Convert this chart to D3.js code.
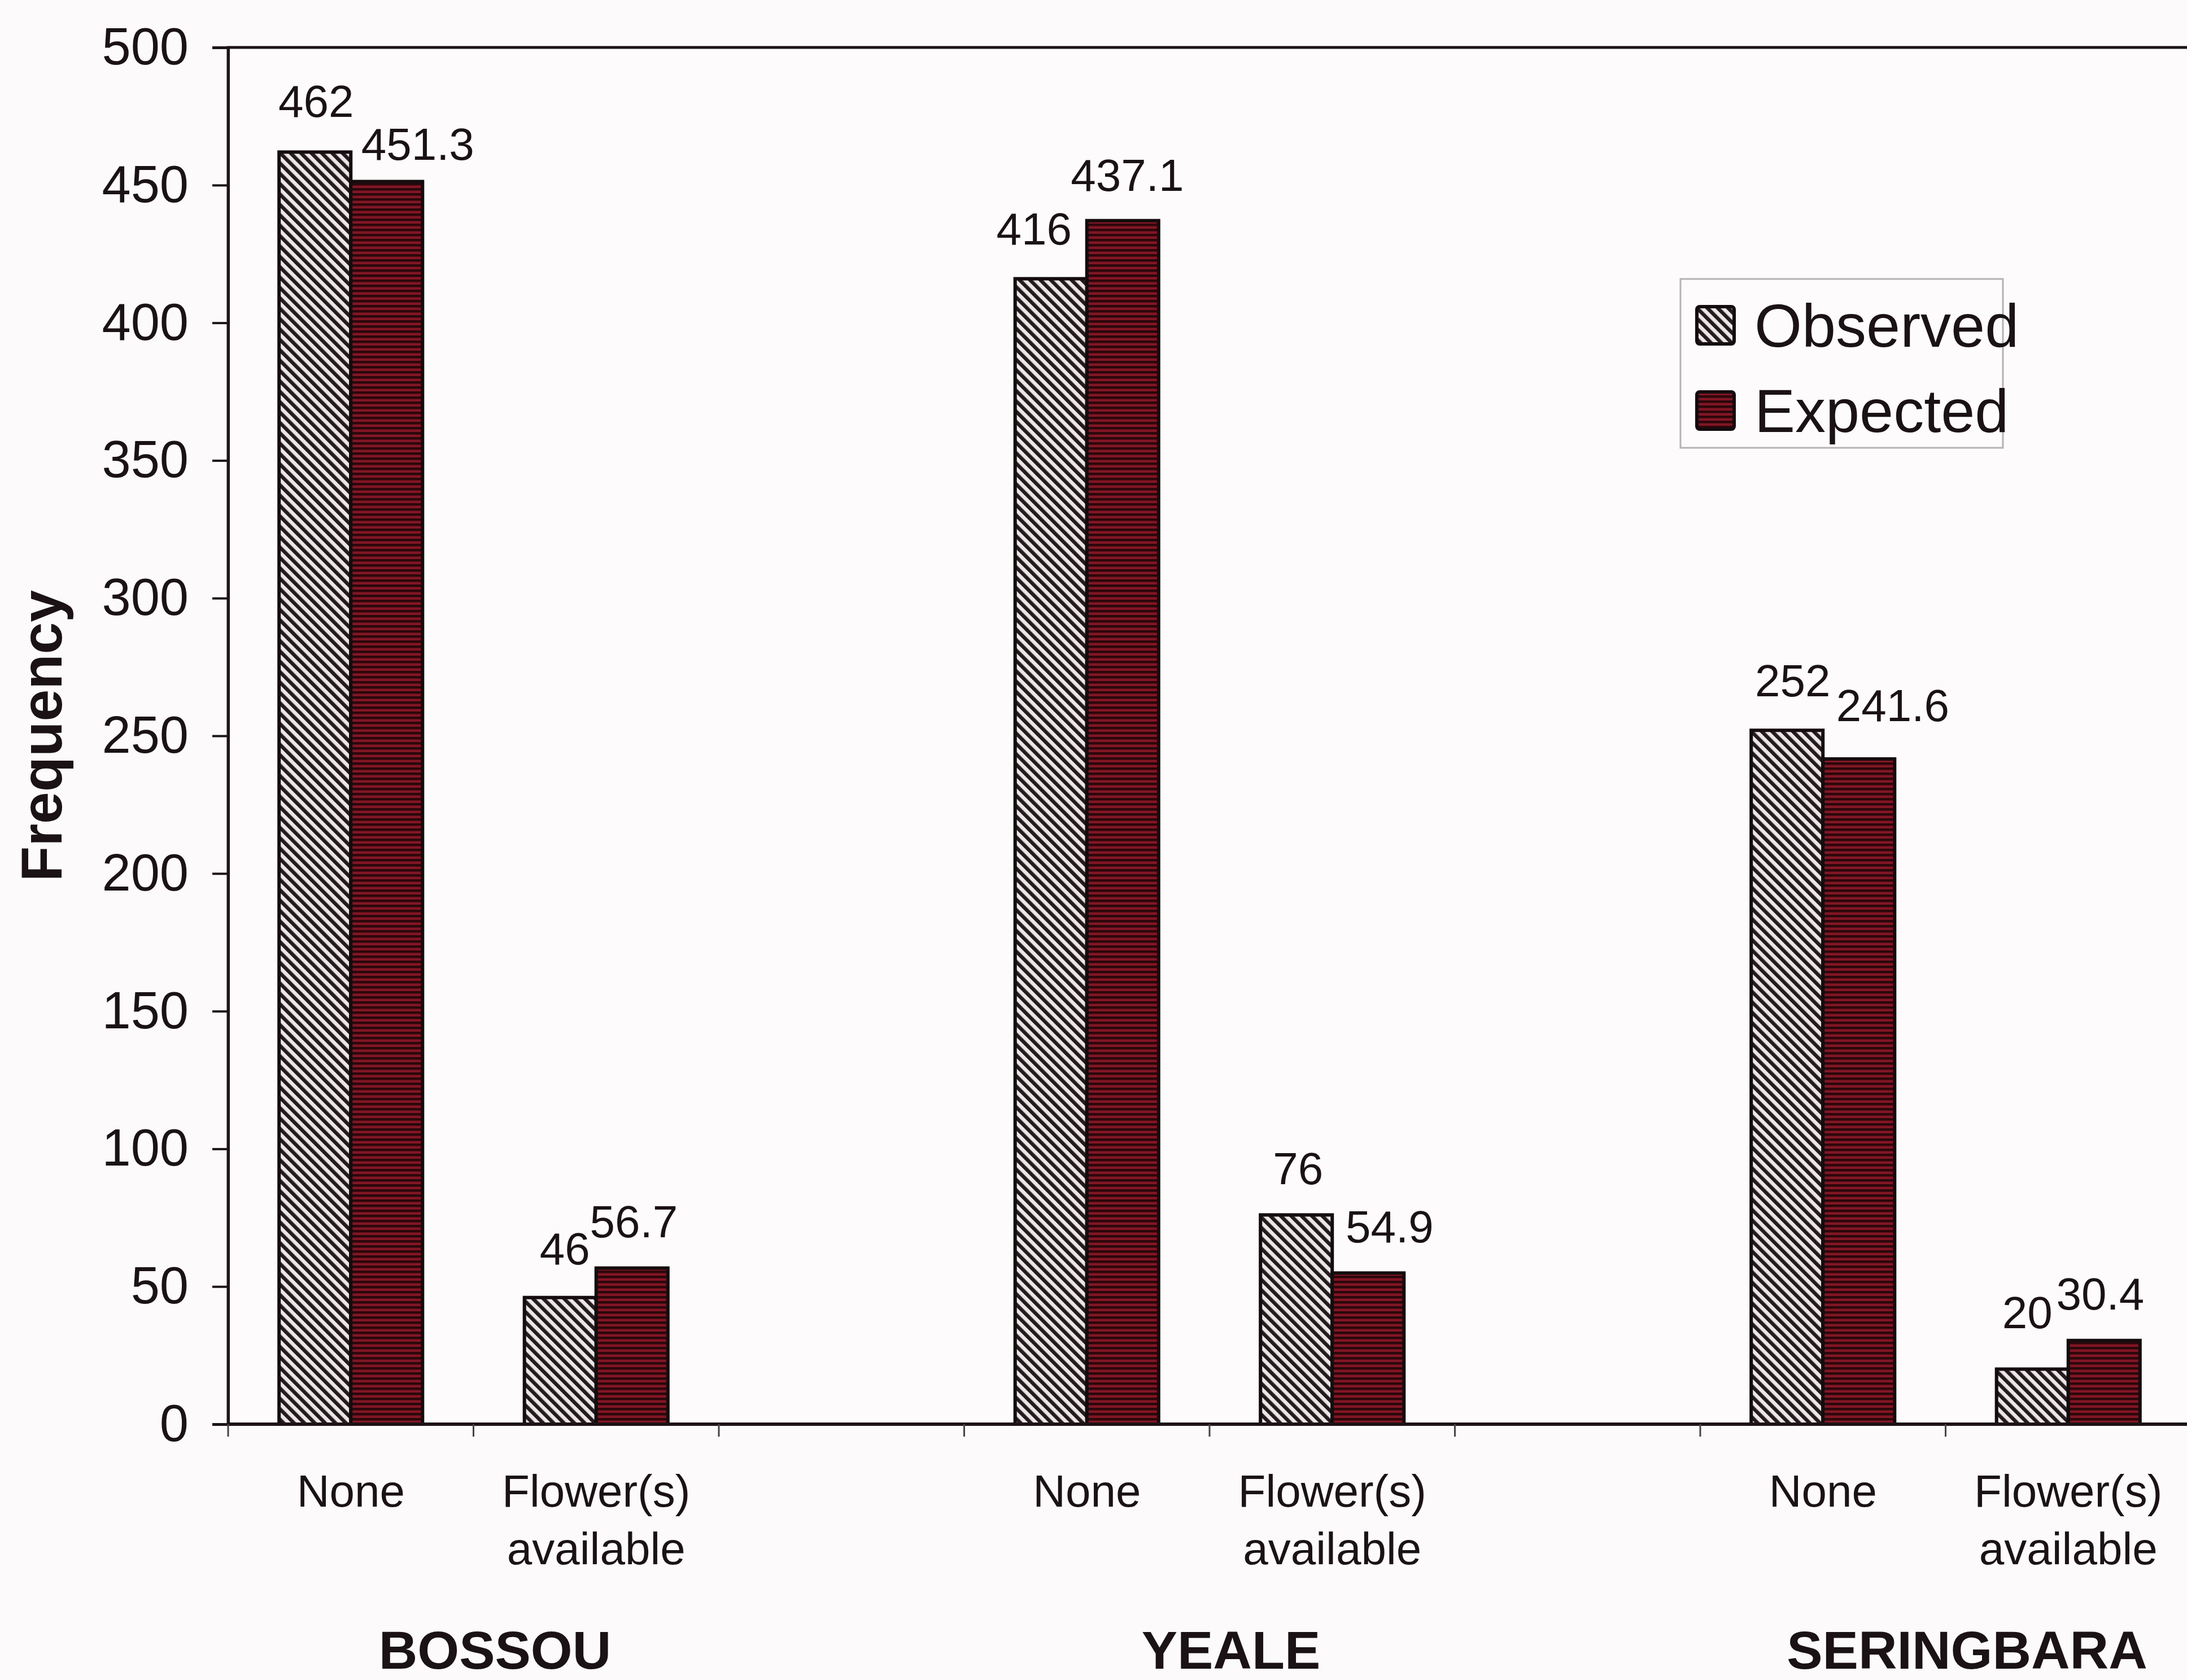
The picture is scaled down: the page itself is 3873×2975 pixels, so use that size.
<!DOCTYPE html>
<html>
<head>
<meta charset="utf-8">
<script src="https://cdn.jsdelivr.net/npm/d3@7"></script>
<style>
  html, body { margin: 0; padding: 0; background: #fcfafa; overflow: hidden; }
  svg { display: block; }
  text { font-family: "Liberation Sans", Arial, sans-serif; fill: #1a1214; }
</style>
</head>
<body>
<script>
// Sites and the two feeding contexts recorded at each site
const sites = ["BOSSOU", "YEALE", "SERINGBARA"];
const contexts = ["None", "Flower(s) available"];
const seriesNames = ["Observed", "Expected"];

// Frequencies per site/context (site order, then context order)
const observed = [462, 46, 416, 76, 252, 20];
const expected = [451.3, 56.7, 437.1, 54.9, 241.6, 30.4];

// Value labels exactly as printed
const observedLabels = ["462", "46", "416", "76", "252", "20"];
const expectedLabels = ["451.3", "56.7", "437.1", "54.9", "241.6", "30.4"];

const yTicks = [0, 50, 100, 150, 200, 250, 300, 350, 400, 450, 500];
const yTitle = "Frequency";

// Hand nudges for the value labels [dx, dy], so that neighbouring labels do not collide
const observedNudge = [[2, -8], [8, -4], [-30, -6], [3, 0], [10, -6], [-9, -18]];
const expectedNudge = [[55, 16], [3, 0], [8, 2], [38, 0], [60, -12], [-7, 0]];

const W = 3873, H = 2975;
const M = { left: 404, top: 84, bottom: 453 };
const plotW = 3476;             // the frame runs just past the right edge of the page
const plotH = H - M.top - M.bottom;

const svg = d3.select("body").append("svg")
  .attr("width", W).attr("height", H)
  .attr("viewBox", `0 0 ${W} ${H}`);

// Fill patterns: diagonal hatching for observed, horizontal banding for expected
const defs = svg.append("defs");
const pObs = defs.append("pattern")
  .attr("id", "hatchObs")
  .attr("patternUnits", "userSpaceOnUse")
  .attr("width", 13).attr("height", 13)
  .attr("patternTransform", "rotate(-45)");
pObs.append("rect").attr("width", 13).attr("height", 13).attr("fill", "#ebe7e7");
pObs.append("rect").attr("width", 6.5).attr("height", 13).attr("fill", "#231b1d");

const pExp = defs.append("pattern")
  .attr("id", "bandExp")
  .attr("patternUnits", "userSpaceOnUse")
  .attr("width", 9).attr("height", 9);
pExp.append("rect").attr("width", 9).attr("height", 9).attr("fill", "#821624");
pExp.append("rect").attr("width", 9).attr("height", 4.5).attr("fill", "#2c070c");

const fills = { Observed: "url(#hatchObs)", Expected: "url(#bandExp)" };

// Category slots: two contexts per site, with an empty slot between sites
const slots = [];
sites.forEach((s, si) => {
  contexts.forEach((c, ci) => slots.push({ key: `${si}-${ci}`, site: si, ctx: c, idx: si * 2 + ci }));
  if (si < sites.length - 1) slots.push({ key: `gap-${si}`, site: si, ctx: null, idx: -1 });
});

const x = d3.scaleBand()
  .domain(slots.map(d => d.key))
  .range([M.left, M.left + plotW])
  .padding(0);

const xInner = d3.scaleBand()
  .domain(seriesNames)
  .range([0, x.bandwidth()])
  .paddingInner(0)
  .paddingOuter(0.71);

const y = d3.scaleLinear().domain([0, 500]).range([M.top + plotH, M.top]);

// Plot frame (top and left, bottom drawn as the axis line)
svg.append("rect")
  .attr("x", M.left).attr("y", M.top)
  .attr("width", plotW).attr("height", plotH)
  .attr("fill", "#fdfbfb")
  .attr("stroke", "#1c1416")
  .attr("stroke-width", 5);

// Bars
const barData = [];
slots.filter(d => d.idx >= 0).forEach(d => {
  barData.push({ slot: d.key, series: "Observed", value: observed[d.idx], label: observedLabels[d.idx], nudge: observedNudge[d.idx] });
  barData.push({ slot: d.key, series: "Expected", value: expected[d.idx], label: expectedLabels[d.idx], nudge: expectedNudge[d.idx] });
});

svg.append("g").selectAll("rect")
  .data(barData)
  .join("rect")
  .attr("x", d => x(d.slot) + xInner(d.series))
  .attr("y", d => y(d.value))
  .attr("width", xInner.bandwidth())
  .attr("height", d => y(0) - y(d.value))
  .attr("fill", d => fills[d.series])
  .attr("stroke", "#140c0e")
  .attr("stroke-width", 6);

// Value labels above bars
svg.append("g").selectAll("text")
  .data(barData)
  .join("text")
  .attr("x", d => x(d.slot) + xInner(d.series) + xInner.bandwidth() / 2 + d.nudge[0])
  .attr("y", d => y(d.value) - 82 + d.nudge[1])
  .attr("text-anchor", "middle")
  .attr("dominant-baseline", "central")
  .attr("font-size", 80)
  .text(d => d.label);

// Y axis
const yAxis = svg.append("g")
  .attr("transform", `translate(${M.left},0)`)
  .call(d3.axisLeft(y).tickValues(yTicks).tickSize(28).tickPadding(42).tickFormat(d3.format("d")));
yAxis.select(".domain").attr("stroke", "#1c1416").attr("stroke-width", 5);
yAxis.selectAll(".tick line").attr("stroke", "#1c1416").attr("stroke-width", 4);
yAxis.selectAll(".tick text")
  .attr("font-size", 92)
  .attr("font-family", "Liberation Sans, Arial, sans-serif")
  .attr("fill", "#1a1214");

// X axis line with tick marks at slot boundaries
const xAxisY = y(0);
svg.append("line")
  .attr("x1", M.left).attr("x2", M.left + plotW)
  .attr("y1", xAxisY).attr("y2", xAxisY)
  .attr("stroke", "#1c1416").attr("stroke-width", 6);
const boundaries = d3.range(slots.length + 1).map(i => M.left + i * x.step());
svg.append("g").selectAll("line")
  .data(boundaries)
  .join("line")
  .attr("x1", d => d).attr("x2", d => d)
  .attr("y1", xAxisY).attr("y2", xAxisY + 22)
  .attr("stroke", "#4a4244").attr("stroke-width", 3);

// Context labels (wrapped on the space after the first word)
const ctxLabels = svg.append("g").selectAll("text")
  .data(slots.filter(d => d.idx >= 0))
  .join("text")
  .attr("x", d => x(d.key) + x.bandwidth() / 2)
  .attr("y", 2640)
  .attr("text-anchor", "middle")
  .attr("dominant-baseline", "central")
  .attr("font-size", 80);
ctxLabels.each(function(d) {
  const words = d.ctx.split(" ");
  const t = d3.select(this);
  words.forEach((w, i) => {
    t.append("tspan")
      .attr("x", x(d.key) + x.bandwidth() / 2)
      .attr("dy", i === 0 ? 0 : 102)
      .text(w);
  });
});

// Site labels under each pair of contexts
svg.append("g").selectAll("text")
  .data(sites)
  .join("text")
  .attr("x", (s, si) => (x(`${si}-0`) + x(`${si}-1`) + x.bandwidth()) / 2 + 38)
  .attr("y", 2922)
  .attr("text-anchor", "middle")
  .attr("dominant-baseline", "central")
  .attr("font-size", 95)
  .attr("font-weight", "bold")
  .text(d => d);

// Y axis title
svg.append("text")
  .attr("transform", `translate(74,${M.top + plotH / 2}) rotate(-90)`)
  .attr("text-anchor", "middle")
  .attr("dominant-baseline", "central")
  .attr("font-size", 102)
  .attr("font-weight", "bold")
  .text(yTitle);

// Legend
const lg = svg.append("g").attr("transform", "translate(2976,494)");
lg.append("rect")
  .attr("width", 571).attr("height", 299)
  .attr("fill", "#fdfbfb")
  .attr("stroke", "#b8b2b2")
  .attr("stroke-width", 3);
const rows = lg.selectAll("g.row")
  .data(seriesNames)
  .join("g")
  .attr("class", "row")
  .attr("transform", (d, i) => `translate(0,${82 + i * 151})`);
rows.append("rect")
  .attr("x", 29).attr("y", -33)
  .attr("width", 66).attr("height", 66)
  .attr("rx", 5)
  .attr("fill", d => fills[d])
  .attr("stroke", "#140c0e")
  .attr("stroke-width", 6);
rows.append("text")
  .attr("x", 131)
  .attr("y", 0)
  .attr("dominant-baseline", "central")
  .attr("font-size", 108)
  .text(d => d);
</script>
</body>
</html>
